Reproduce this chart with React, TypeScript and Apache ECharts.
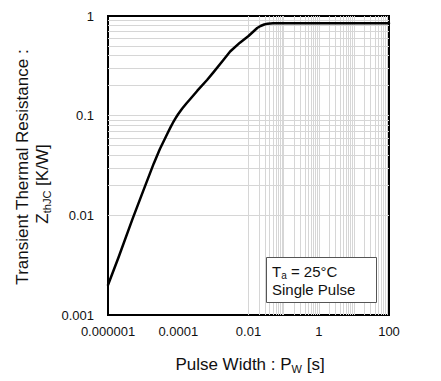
import React, { useEffect, useRef } from "react";
import * as echarts from "echarts";

// ---- data ----
const pulseWidth = [
  1e-6, 2e-6, 5e-6, 1e-5, 2e-5, 3e-5, 4e-5, 5e-5, 6e-5, 7e-5, 8.5e-5, 1e-4, 1.3e-4, 1.7e-4,
  2.2e-4, 3.5e-4, 6.6e-4, 1e-3, 1.9e-3, 3e-3, 5.7e-3, 1e-2, 1.77e-2, 2.2e-2, 2.8e-2, 3.5e-2,
  5e-2, 100,
];
const zthJC = [
  0.002, 0.0038, 0.0092, 0.0175, 0.033, 0.0463, 0.057, 0.067, 0.0762, 0.0845, 0.0948, 0.104,
  0.118, 0.1325, 0.147, 0.178, 0.228, 0.272, 0.36, 0.44, 0.54, 0.63, 0.758, 0.794, 0.822,
  0.838, 0.845, 0.845,
];
const xTickLabels = ["0.000001", "0.0001", "0.01", "1", "100"];
const yTickLabels = ["0.001", "0.01", "0.1", "1"];
const xDecades = [-6, -5, -4, -3, -2, -1, 0, 1, 2];
const yDecades = [-3, -2, -1, 0];
const gridMultipliers = [1, 2, 3, 4, 5, 6, 7, 8, 9];

const FONT = "'Liberation Sans', Arial, sans-serif";

export default function App() {
  const ref = useRef<HTMLDivElement>(null);
  useEffect(() => {
    if (!ref.current) return;
    const chart = echarts.init(ref.current, null, { renderer: "svg" });

    const xMin = Math.pow(10, xDecades[0]);
    const xMax = Math.pow(10, xDecades[xDecades.length - 1]);
    const yMin = Math.pow(10, yDecades[0]);
    const yMax = Math.pow(10, yDecades[yDecades.length - 1]);

    const gridLines: any[] = [];
    for (let i = 0; i < xDecades.length - 1; i++) {
      for (const m of gridMultipliers) {
        const v = m * Math.pow(10, xDecades[i]);
        if (v <= xMin * 1.0001) continue;
        gridLines.push({ xAxis: v });
      }
    }
    for (let i = 0; i < yDecades.length - 1; i++) {
      for (const m of gridMultipliers) {
        const v = m * Math.pow(10, yDecades[i]);
        if (v <= yMin * 1.0001) continue;
        gridLines.push({ yAxis: v });
      }
    }

    const xLabelFor = (v: number) => {
      const e = Math.round(Math.log10(v));
      const idx = (e - xDecades[0]) / 2;
      return Number.isInteger(idx) && xTickLabels[idx] !== undefined ? xTickLabels[idx] : "";
    };
    const yLabelFor = (v: number) => {
      const e = Math.round(Math.log10(v));
      return yTickLabels[e - yDecades[0]] ?? "";
    };

    chart.setOption({
      animation: false,
      grid: {
        left: 108,
        right: 52,
        top: 16,
        bottom: 66,
        show: true,
        borderColor: "#000",
        borderWidth: 2,
        backgroundColor: "#fff",
      },
      xAxis: {
        type: "log",
        logBase: 10,
        min: xMin,
        max: xMax,
        interval: 2,
        axisLine: { show: false },
        axisTick: { show: false },
        splitLine: { show: false },
        axisLabel: {
          margin: 10,
          fontSize: 13,
          color: "#111",
          fontFamily: FONT,
          formatter: xLabelFor,
        },
      },
      yAxis: {
        type: "log",
        logBase: 10,
        min: yMin,
        max: yMax,
        axisLine: { show: false },
        axisTick: { show: false },
        splitLine: { show: false },
        axisLabel: {
          margin: 14,
          fontSize: 13,
          color: "#111",
          fontFamily: FONT,
          formatter: yLabelFor,
        },
      },
      series: [
        {
          type: "line",
          data: [],
          z: 1,
          silent: true,
          markLine: {
            silent: true,
            symbol: ["none", "none"],
            label: { show: false },
            lineStyle: { color: "#d6d6d6", width: 1, type: "solid" },
            emphasis: { disabled: true },
            data: gridLines,
          },
        },
        {
          type: "line",
          z: 5,
          data: pulseWidth.map((t, i) => [t, zthJC[i]]),
          showSymbol: false,
          smooth: false,
          lineStyle: { color: "#000", width: 2.5, join: "round", cap: "round" },
        },
      ],
      graphic: [
        {
          type: "text",
          x: 22,
          y: 167,
          rotation: Math.PI / 2,
          style: {
            text: "Transient Thermal Resistance :",
            font: `17px ${FONT}`,
            fill: "#111",
            align: "center",
            verticalAlign: "middle",
          },
        },
        {
          type: "text",
          x: 42,
          y: 184,
          rotation: Math.PI / 2,
          style: {
            text: "{n|Z}{s|thJC}{n| [K/W]}",
            fill: "#111",
            align: "center",
            verticalAlign: "middle",
            rich: {
              n: { fontSize: 17, fontFamily: FONT, lineHeight: 20, fill: "#111" },
              s: { fontSize: 11, fontFamily: FONT, lineHeight: 10, verticalAlign: "bottom", fill: "#111" },
            },
          },
        },
        {
          type: "text",
          x: 250,
          y: 364,
          style: {
            text: "{n|Pulse Width : P}{s|W}{n| [s]}",
            fill: "#111",
            align: "center",
            verticalAlign: "middle",
            rich: {
              n: { fontSize: 17, fontFamily: FONT, lineHeight: 20, fill: "#111" },
              s: { fontSize: 11, fontFamily: FONT, lineHeight: 10, verticalAlign: "bottom", fill: "#111" },
            },
          },
        },
        {
          type: "rect",
          z: 10,
          shape: { x: 266.5, y: 257.5, width: 110, height: 45 },
          style: { fill: "#fff", stroke: "#555", lineWidth: 1 },
        },
        {
          type: "text",
          z: 11,
          x: 272,
          y: 271,
          style: {
            text: "{n|T}{s|a}{n| = 25°C}",
            fill: "#111",
            align: "left",
            verticalAlign: "middle",
            rich: {
              n: { fontSize: 15, fontFamily: FONT, lineHeight: 18, fill: "#111" },
              s: { fontSize: 10, fontFamily: FONT, lineHeight: 9, verticalAlign: "bottom", fill: "#111" },
            },
          },
        },
        {
          type: "text",
          z: 11,
          x: 272,
          y: 289,
          style: {
            text: "Single Pulse",
            font: `15px ${FONT}`,
            fill: "#111",
            align: "left",
            verticalAlign: "middle",
          },
        },
      ],
    });
    return () => chart.dispose();
  }, []);
  return <div ref={ref} style={{ width: 441, height: 381, position: "absolute", left: 0, top: 0 }} />;
}
